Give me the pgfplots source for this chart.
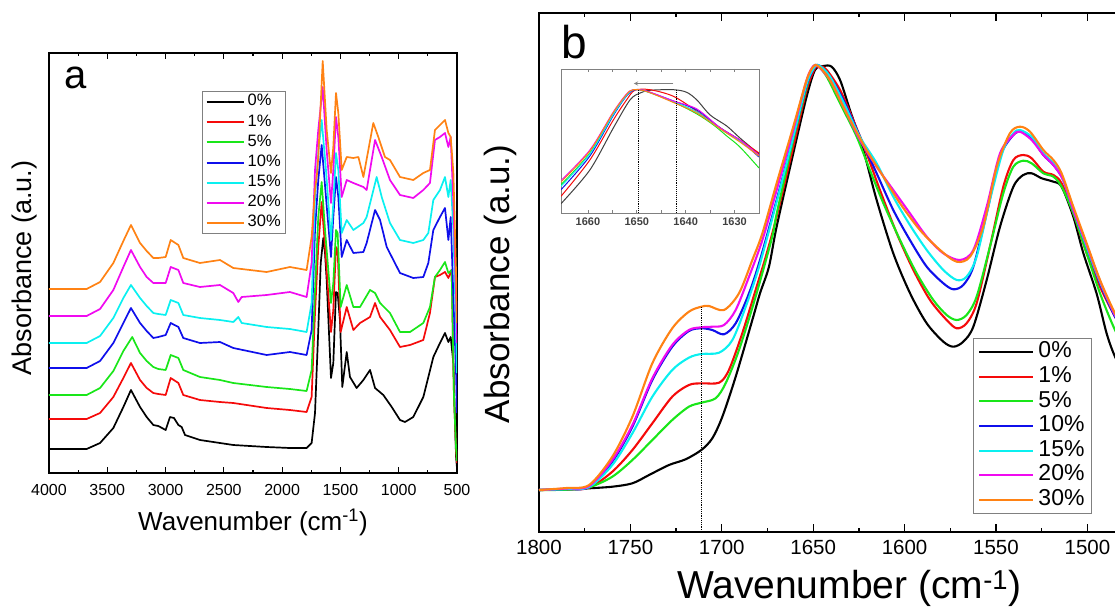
\documentclass[border=0pt]{standalone}
\usepackage{fontspec}
\setmainfont{Liberation Sans}
\usepackage{pgfplots}
\pgfplotsset{compat=1.18}
\definecolor{cred}{RGB}{245,10,10}
\definecolor{cgreen}{RGB}{25,230,25}
\definecolor{cblue}{RGB}{15,15,235}
\definecolor{ccyan}{RGB}{10,240,240}
\definecolor{cmag}{RGB}{240,10,240}
\definecolor{corange}{RGB}{255,130,20}
\begin{document}
\begin{tikzpicture}[x=1pt,y=1pt]
\path[use as bounding box] (0,0) rectangle (1115,606);
\clip (0,0) rectangle (1115,606);
% ---------------- panel a ----------------
\begin{axis}[
  at={(49pt,133pt)}, anchor=south west,
  scale only axis, width=408pt, height=420pt,
  xmin=500, xmax=4000, x dir=reverse, ymin=0, ymax=420,
  xtick={500,1000,...,4000}, minor x tick num=1, ytick=\empty,
  tick align=inside, major tick length=6pt, minor tick length=3.5pt,
  every tick/.style={black, line width=1.1pt},
  axis line style={line width=1.3pt},
  /pgf/number format/assume math mode=true,
  /pgf/number format/set thousands separator={},
  xticklabel style={font=\fontsize{16}{16}\selectfont, yshift=-8pt},
  xlabel={Wavenumber (cm\textsuperscript{-1})},
  xlabel style={font=\fontsize{26}{26}\selectfont, at={(axis description cs:0.5,-0.117)}, anchor=center},
  ylabel={Absorbance (a.u.)},
  ylabel style={font=\fontsize{27}{27}\selectfont, at={(axis description cs:-0.061,0.488)}, anchor=center},
  legend cell align=left,
  legend style={at={(0.3757,0.9102)}, anchor=north west, draw=gray, line width=0.9pt, fill=white,
    font=\fontsize{16.5}{16.5}\selectfont, inner xsep=3pt, inner ysep=1pt, row sep=0pt,
    nodes={inner xsep=2pt, inner ysep=1.5pt, text height=12.3pt, text depth=4.8pt},
    /tikz/every odd column/.append style={column sep=1pt}},
  legend image code/.code={\draw[#1, line width=2pt] (0pt,0pt) -- (37pt,0pt);},
  every axis plot/.append style={line width=1.7pt, line join=round},
]
\addplot[black] coordinates {(4000,24)(3800,24)(3677,24)(3562,30)(3448,45)(3362,66)(3297,83)(3219,66)(3162,56)(3105,48)(3062,47)(2999,43)(2962,56)(2928,55)(2890,48)(2862,46)(2833,38)(2705,33)(2533,30)(2419,28)(2133,26)(1933,25)(1790,25)(1747,30)(1718,60)(1690,143)(1669,210)(1647,235)(1632,220)(1618,193)(1581,95)(1561,110)(1538,181)(1524,180)(1504,153)(1484,86)(1446,121)(1418,96)(1361,85)(1303,93)(1246,103)(1203,85)(1132,78)(1060,66)(989,53)(946,51)(875,56)(789,76)(703,116)(646,130)(603,140)(574,131)(554,136)(531,110)(508,16)(500,5)};
\addlegendentry{0\%}
\addplot[cred] coordinates {(4000,54)(3677,54)(3562,60)(3448,76)(3362,95)(3297,110)(3219,93)(3162,85)(3105,80)(3062,79)(2999,78)(2956,95)(2890,90)(2848,78)(2705,73)(2533,71)(2419,70)(2133,65)(1933,63)(1790,61)(1747,76)(1718,160)(1690,226)(1661,271)(1632,226)(1581,141)(1561,163)(1538,226)(1524,223)(1498,141)(1446,166)(1389,143)(1332,150)(1246,156)(1203,170)(1160,156)(1075,143)(989,126)(903,128)(789,133)(732,160)(689,196)(646,198)(603,201)(574,195)(546,203)(526,76)(508,23)(500,10)};
\addlegendentry{1\%}
\addplot[cgreen] coordinates {(4000,78)(3677,78)(3562,85)(3448,102)(3362,122)(3286,136)(3219,120)(3162,112)(3105,106)(3062,104)(2999,103)(2956,118)(2890,115)(2848,103)(2705,96)(2533,93)(2419,90)(2133,86)(1933,84)(1790,82)(1747,103)(1718,183)(1690,256)(1661,291)(1632,243)(1581,170)(1561,190)(1538,243)(1524,240)(1498,166)(1446,188)(1389,166)(1332,166)(1246,183)(1203,180)(1160,170)(1075,160)(989,141)(903,141)(789,150)(732,166)(689,196)(646,203)(603,211)(574,200)(546,203)(526,76)(508,25)(500,12)};
\addlegendentry{5\%}
\addplot[cblue] coordinates {(4000,105)(3677,105)(3562,112)(3448,130)(3362,150)(3297,165)(3219,150)(3162,142)(3105,135)(3062,136)(2999,138)(2956,150)(2890,146)(2848,135)(2705,130)(2533,131)(2419,125)(2133,118)(1933,121)(1790,118)(1747,143)(1718,243)(1690,293)(1661,328)(1624,276)(1581,216)(1561,256)(1538,296)(1518,276)(1489,216)(1446,233)(1389,220)(1303,221)(1275,230)(1203,263)(1160,253)(1103,226)(989,200)(875,195)(789,196)(746,210)(703,243)(646,256)(603,265)(574,233)(554,256)(531,176)(508,100)(500,60)};
\addlegendentry{10\%}
\addplot[ccyan] coordinates {(4000,130)(3677,130)(3562,137)(3448,155)(3362,175)(3297,188)(3219,175)(3162,167)(3105,160)(3062,159)(2999,158)(2956,173)(2890,170)(2848,158)(2705,155)(2533,153)(2419,151)(2376,156)(2347,150)(2133,146)(1933,144)(1790,141)(1747,170)(1718,276)(1690,320)(1661,353)(1624,303)(1581,233)(1561,270)(1538,320)(1518,303)(1489,240)(1446,253)(1389,243)(1303,250)(1275,256)(1189,296)(1146,276)(1075,250)(989,233)(875,230)(789,233)(746,240)(703,273)(646,283)(603,296)(574,276)(554,293)(531,243)(508,143)(500,100)};
\addlegendentry{15\%}
\addplot[cmag] coordinates {(4000,157)(3677,157)(3562,164)(3448,183)(3362,206)(3297,223)(3219,206)(3162,196)(3105,190)(3062,190)(2999,190)(2956,206)(2890,203)(2848,190)(2705,186)(2533,188)(2419,180)(2376,171)(2347,176)(2133,178)(1933,181)(1790,176)(1747,210)(1718,303)(1690,343)(1652,386)(1618,323)(1581,270)(1561,303)(1538,356)(1518,336)(1489,276)(1446,293)(1389,290)(1303,286)(1275,283)(1203,333)(1146,316)(1075,293)(989,278)(875,275)(789,283)(732,290)(689,333)(646,336)(603,340)(574,326)(554,336)(531,270)(508,176)(500,130)};
\addlegendentry{20\%}
\addplot[corange] coordinates {(4000,184)(3677,184)(3562,191)(3448,210)(3362,232)(3297,248)(3219,230)(3162,222)(3105,215)(3062,215)(2999,216)(2956,233)(2890,228)(2848,215)(2705,210)(2533,213)(2419,205)(2133,201)(1933,206)(1790,203)(1747,236)(1718,283)(1700,300)(1690,316)(1652,412)(1618,343)(1581,300)(1561,326)(1538,380)(1518,360)(1489,303)(1446,316)(1389,315)(1346,316)(1303,296)(1218,350)(1175,336)(1118,316)(1075,313)(989,296)(875,293)(789,300)(732,303)(689,343)(646,348)(603,353)(574,340)(554,336)(531,300)(508,200)(500,150)};
\addlegendentry{30\%}
\end{axis}
\node[font=\fontsize{40}{40}\selectfont] at (76,528) {a};
% ---------------- panel b ----------------
\begin{axis}[
  at={(539pt,74pt)}, anchor=south west,
  scale only axis, width=603.24pt, height=519pt,
  xmin=1470, xmax=1800, x dir=reverse, ymin=0, ymax=519,
  xtick={1500,1550,...,1800}, minor x tick num=1, ytick=\empty,
  tick align=inside, major tick length=8pt, minor tick length=4.5pt,
  every tick/.style={black, line width=1.3pt},
  axis line style={line width=1.5pt},
  /pgf/number format/assume math mode=true,
  /pgf/number format/set thousands separator={},
  xticklabel style={font=\fontsize{20.5}{20.5}\selectfont, yshift=-5pt},
  xlabel={Wavenumber (cm\textsuperscript{-1})},
  xlabel style={font=\fontsize{39}{39}\selectfont, at={(axis description cs:0.514,-0.108)}, anchor=center},
  ylabel={Absorbance (a.u.)},
  ylabel style={font=\fontsize{35}{35}\selectfont, at={(axis description cs:-0.0647,0.478)}, anchor=center},
  legend cell align=left,
  legend style={at={(0.72,0.3732)}, anchor=north west, draw=gray, line width=1.1pt, fill=white,
    font=\fontsize{23}{23}\selectfont, inner xsep=4.5pt, inner ysep=1pt, row sep=0pt,
    nodes={inner xsep=2.5pt, inner ysep=1.5pt, text height=16.5pt, text depth=5.1pt},
    /tikz/every odd column/.append style={column sep=1.5pt}},
  legend image code/.code={\draw[#1] (0pt,0pt) -- (54pt,0pt);},
  every axis plot/.append style={line width=2.1pt, smooth, tension=0.5, line join=round},
]
\addplot[black] coordinates {(1800,42)(1785,42.5)(1772.6,43.7)(1759.9,45.3)(1748.9,48.7)(1739.8,57)(1728.9,67)(1719.8,72.7)(1711.2,82)(1705.2,93.7)(1699.7,115.3)(1692.4,155.3)(1683.3,212)(1679.1,238.7)(1674.2,265.3)(1670,305.3)(1660.9,378.7)(1653.6,435.3)(1649,462)(1644.5,466)(1639.9,465.3)(1635.3,452)(1629.9,422)(1622.6,382)(1615.3,332)(1606.2,278.7)(1597,238.7)(1587.9,208.7)(1578.8,190.3)(1573.3,185.3)(1567.9,190.3)(1562.4,205.3)(1555.1,252)(1547.8,305.3)(1540.5,345.3)(1535.1,357)(1530.5,358.7)(1525,353.7)(1518.6,350.3)(1514.1,345.3)(1507.7,315.3)(1502.2,278.7)(1495,238.7)(1489.5,198.7)(1484.9,175.3)(1478,150)};
\addlegendentry{0\%}
\addplot[cred] coordinates {(1800,42)(1785,42.5)(1772.6,44.3)(1759.9,60.3)(1748.9,82)(1738,108.7)(1727.1,135.3)(1718,147)(1711.2,148.7)(1701.5,149.3)(1696.1,162)(1688.8,198.7)(1681.5,242)(1676,275)(1670,315.3)(1660.9,385.3)(1653.6,442)(1649,463.7)(1646.3,466)(1642.6,462)(1635.3,442)(1628.1,412)(1620.8,378.7)(1613.5,342)(1604.3,298.7)(1595.2,262)(1586.1,232)(1577,212)(1571.5,203.7)(1566.1,208.7)(1560.6,228.7)(1553.3,285.3)(1546,345.3)(1540.5,372)(1535.1,377)(1530.5,373.7)(1524.1,360.3)(1518.6,357)(1514.1,348.7)(1507.7,318.7)(1500.4,278.7)(1493.1,245.3)(1484.9,215.3)(1478,195)};
\addlegendentry{1\%}
\addplot[cgreen] coordinates {(1800,42)(1785,42.3)(1772.6,44.7)(1759.9,55.3)(1748.9,72)(1738,92)(1727.1,112)(1718,125.3)(1711.2,129.3)(1703.4,133.7)(1697.9,148.7)(1690.6,182)(1681.5,235.3)(1672.4,295.3)(1670,318)(1660.9,392)(1653.6,445.3)(1649.9,465.3)(1647.3,466)(1642.6,455.3)(1635.3,428.7)(1626.2,395.3)(1619,362)(1611.6,328.7)(1602.5,292)(1593.4,258.7)(1584.3,232)(1577,217)(1571.5,212)(1566.1,217)(1560.6,235.3)(1553.3,285.3)(1546,338.7)(1540.5,365.3)(1535.1,371.3)(1530.5,368.7)(1524.1,358.7)(1518.6,355.3)(1514.1,345.3)(1507.7,318.7)(1500.4,278.7)(1493.1,238.7)(1484.9,202)(1478,180)};
\addlegendentry{5\%}
\addplot[cblue] coordinates {(1800,42)(1785,43)(1772.6,45)(1759.9,70.3)(1748.9,105.3)(1738,152)(1727.1,185.3)(1718,201)(1711.2,203.7)(1705.2,202)(1698.8,197.7)(1692.4,208.7)(1685.1,238.7)(1679.1,272)(1670,332)(1660.9,395.3)(1653.6,447)(1649,465.3)(1646.3,466)(1640.8,455.3)(1633.5,432)(1624.4,395.3)(1615.3,358.7)(1606.2,322)(1597.1,292)(1587.9,265.3)(1578.8,248.7)(1573.3,242.7)(1567.9,247)(1562.4,265.3)(1555.1,318.7)(1547.8,375.3)(1540.5,397)(1536,400.3)(1530.5,393.7)(1524.1,377)(1518.6,367)(1513.2,352)(1507.7,322)(1500.4,285.3)(1493.1,248.7)(1484.9,215.3)(1478,195)};
\addlegendentry{10\%}
\addplot[ccyan] coordinates {(1800,42)(1785,43)(1772.6,45)(1759.9,67)(1748.9,98.7)(1738,135.3)(1727.1,162)(1718,174.3)(1711.2,178)(1701.5,179.3)(1694.2,192)(1686.9,225.3)(1679.6,265.3)(1670,330)(1660.9,395)(1653.6,448)(1649,465.5)(1646.3,466)(1641,456)(1633.5,430)(1624.4,395)(1615.3,368.7)(1606.2,335.3)(1597.1,307)(1587.9,282)(1578.8,262)(1571.5,252)(1566.1,255.3)(1560.6,275.3)(1553.3,332)(1546,382)(1540.5,398.7)(1536.9,402)(1530.5,395.3)(1524.1,378.7)(1518.6,368.7)(1513.2,352)(1507.7,322)(1500.4,285.3)(1493.1,250)(1484.9,217)(1478,197)};
\addlegendentry{15\%}
\addplot[cmag] coordinates {(1800,42)(1785,43.5)(1772.6,46)(1759.9,72)(1748.9,107)(1738,153.7)(1727.1,187)(1718,202)(1711.2,204.7)(1705.2,205.3)(1698.8,207)(1692.4,222)(1685.1,255.3)(1677.8,292)(1670,342)(1660.9,402)(1653.6,452)(1649.9,466)(1647.3,465.5)(1640.8,452)(1633.5,425.3)(1624.4,392)(1615.3,365.3)(1606.2,342)(1597.1,318.7)(1587.9,295.3)(1578.8,278.7)(1569.7,272)(1562.4,282)(1555.1,325.3)(1547.8,378.7)(1540.5,397)(1536.9,400.3)(1530.5,392)(1524.1,377)(1518.6,367)(1513.2,352)(1507.7,322)(1500.4,287)(1493.1,251)(1484.9,217)(1478,197)};
\addlegendentry{20\%}
\addplot[corange] coordinates {(1800,42)(1785,44)(1772.6,47)(1759.9,75.3)(1748.9,115.3)(1738,168.7)(1727.1,203.7)(1718,220.3)(1711.2,225.3)(1707,226)(1698.8,222)(1690.6,238.7)(1683.3,272)(1677.8,298.7)(1670,348.7)(1660.9,405.3)(1653.6,452)(1649.9,465.5)(1647.3,466)(1640.8,452)(1631.7,418.7)(1620.8,382)(1611.6,355.3)(1602.5,328.7)(1591.6,302)(1580.6,282)(1571.5,270.3)(1564.2,275.3)(1557,305.3)(1549.6,365.3)(1542.4,398.7)(1536.9,405.3)(1531.4,400.3)(1524.1,382)(1518.6,372)(1514.1,358.7)(1507.7,325.3)(1500.4,288.7)(1493.1,252)(1484.9,218.7)(1478,198)};
\addlegendentry{30\%}
\addplot[black, line width=1.2pt, densely dotted, sharp plot, forget plot] coordinates {(1711.2,0)(1711.2,225)};
\end{axis}
\node[font=\fontsize{46}{46}\selectfont] at (574,564) {b};
% ---------------- inset ----------------
\begin{axis}[
  at={(561pt,393pt)}, anchor=south west,
  scale only axis, width=198pt, height=144pt,
  xmin=1625, xmax=1665.5, x dir=reverse, ymin=0, ymax=144,
  axis background/.style={fill=white},
  xtick={1630,1640,1650,1660}, minor x tick num=1, ytick=\empty,
  tick align=inside, major tick length=3pt, minor tick length=3pt,
  every tick/.style={gray, line width=0.6pt},
  axis line style={gray, line width=0.8pt},
  /pgf/number format/assume math mode=true,
  /pgf/number format/set thousands separator={},
  xticklabel style={font=\fontsize{11}{11}\selectfont\bfseries, text=black!75, yshift=-1pt},
  every axis plot/.append style={line width=1pt, smooth, tension=0.5},
]
\addplot[black!75] coordinates {(1665.5,9.3)(1659.6,43)(1654.8,85)(1651.4,113)(1649.3,120)(1647.3,122.7)(1642.5,123.3)(1639.8,120.7)(1637.7,113)(1635,98)(1631.6,87)(1628.9,75)(1625,59)};
\addplot[cred] coordinates {(1665.5,16.7)(1659.6,53)(1654.8,93)(1652.1,113)(1650.4,122.7)(1647.3,123.3)(1642.5,116.7)(1637.7,101.7)(1632.9,85)(1628.9,73)(1625,60)};
\addplot[cgreen] coordinates {(1665.5,28.3)(1659.6,60)(1654.8,99.5)(1652.1,118)(1650.7,123.3)(1648,121.5)(1642.5,111)(1637.7,99)(1634.3,88)(1631.6,77)(1628.9,66)(1625,45)};
\addplot[cblue] coordinates {(1665.5,23.3)(1659.6,57)(1654.8,97.5)(1652.1,117)(1650.4,123.3)(1648,121.7)(1642.5,112)(1637.7,103)(1632.9,85)(1628.9,72.5)(1625,56)};
\addplot[ccyan] coordinates {(1665.5,26.7)(1659.6,59)(1654.8,98.5)(1652.1,117.5)(1650.6,123.3)(1648,121.5)(1642.5,111.5)(1637.7,101)(1632.9,84)(1628.9,72)(1625,57)};
\addplot[cmag] coordinates {(1665.5,32.5)(1659.6,63)(1654.8,101)(1652.1,119)(1650.7,123.3)(1648,122)(1642.5,112)(1637.7,104)(1632.9,85)(1628.9,73)(1625,58)};
\addplot[corange] coordinates {(1665.5,31)(1659.6,62)(1654.8,100.5)(1652.1,118.5)(1650.7,123.3)(1648,121.5)(1642.5,110.5)(1637.7,100)(1632.9,84)(1628.9,71)(1625,57)};
\addplot[black, line width=1.1pt, densely dotted, sharp plot] coordinates {(1649.6,0)(1649.6,123)};
\addplot[black, line width=1.1pt, densely dotted, sharp plot] coordinates {(1641.9,0)(1641.9,123)};
\draw[gray, line width=0.9pt, -stealth] (axis cs:1642.5,129.5) -- (axis cs:1650.6,129.5);
\end{axis}
\end{tikzpicture}
\end{document}
